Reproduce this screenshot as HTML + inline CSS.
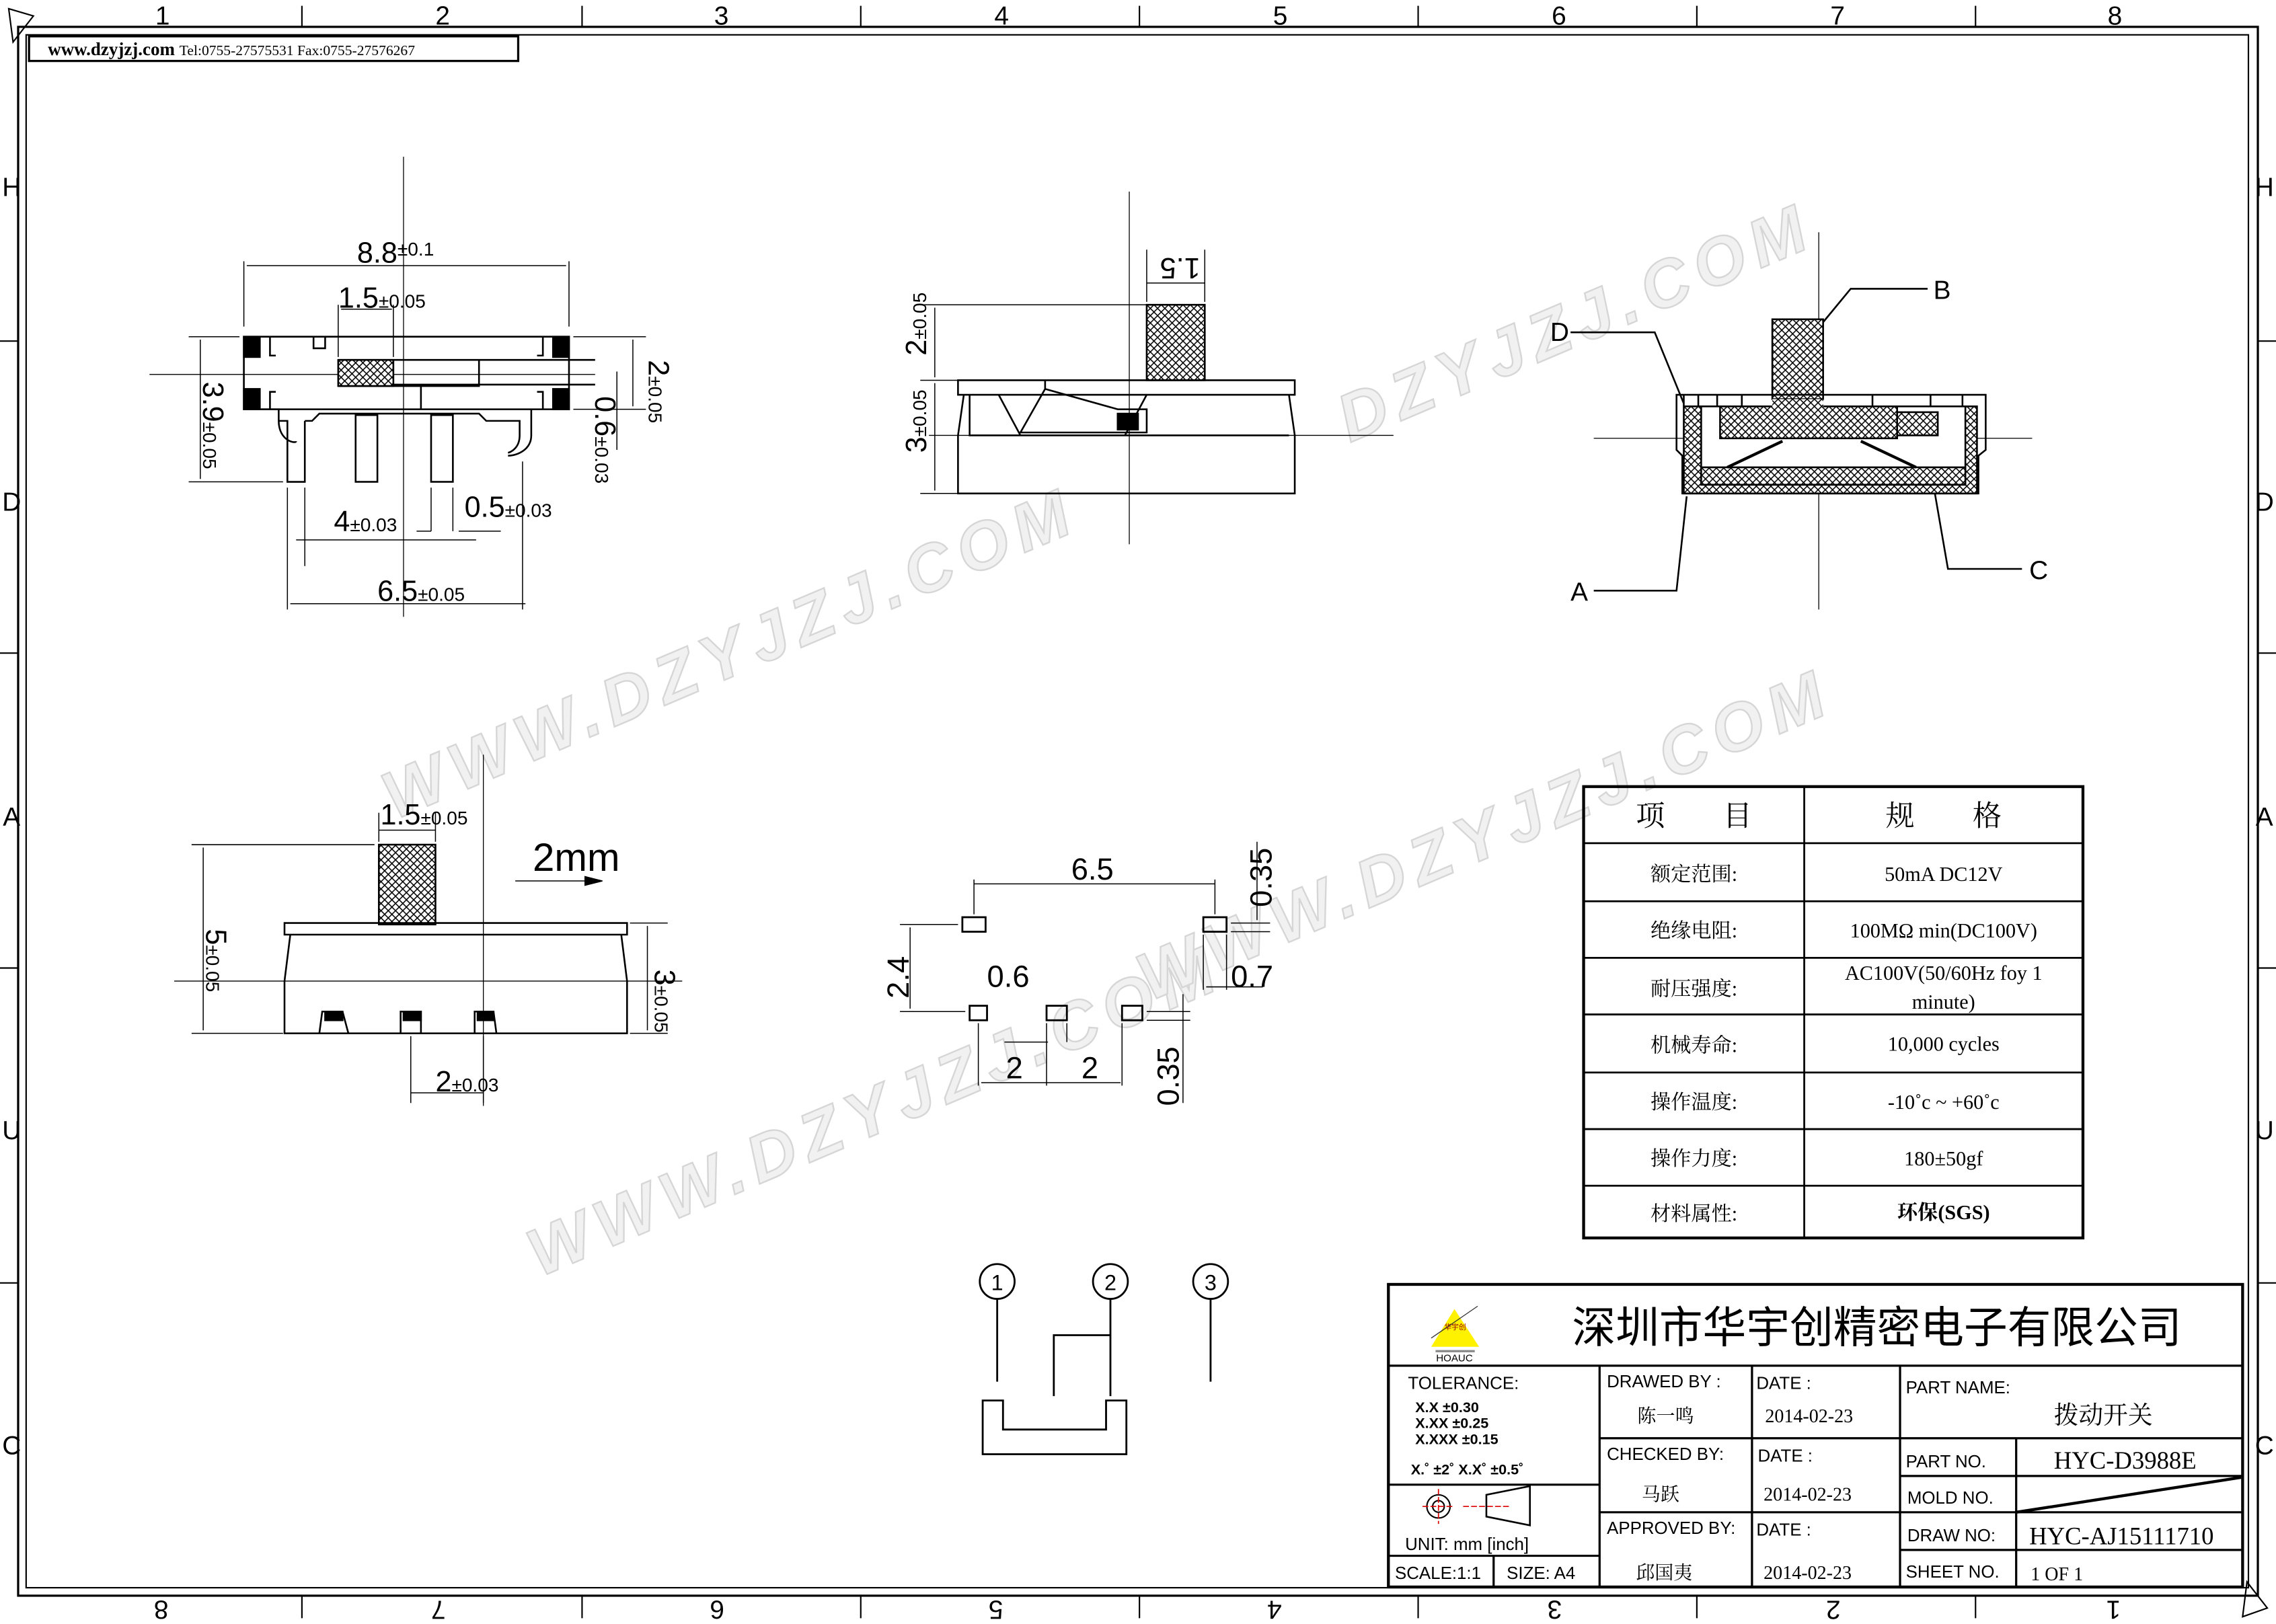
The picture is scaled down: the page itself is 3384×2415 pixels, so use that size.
<!DOCTYPE html>
<html><head><meta charset="utf-8"><style>
html,body{margin:0;padding:0;background:#fff}
svg{display:block}
text{font-family:"Liberation Sans","Noto Sans CJK SC",sans-serif}
.s text, text.s{font-family:"Liberation Serif","Noto Serif CJK SC","Noto Sans CJK SC",serif}
</style></head><body>
<svg width="3384" height="2415" viewBox="0 0 1568 1119" xmlns="http://www.w3.org/2000/svg">
<defs>
<pattern id="h" width="5" height="5" patternUnits="userSpaceOnUse">
<rect width="5" height="5" fill="#fff"/>
<path d="M0 5L5 0M0 0L5 5" stroke="#000" stroke-width="0.7"/>
</pattern>
</defs>
<rect width="1568" height="1119" fill="#fff"/>

<!-- watermarks -->
<g fill="#f1f1f1" stroke="#d6d6d6" stroke-width="1.1" font-size="46" font-style="italic" font-weight="bold" letter-spacing="6">
<text transform="translate(272,565) rotate(-23)" font-family="Liberation Sans,sans-serif">WWW.DZYJZJ.COM</text>
<text transform="translate(372,880) rotate(-23)" font-family="Liberation Sans,sans-serif">WWW.DZYJZJ.COM</text>
<text transform="translate(792,690) rotate(-23)" font-family="Liberation Sans,sans-serif">WWW.DZYJZJ.COM</text>
<text transform="translate(930,305) rotate(-23)" font-family="Liberation Sans,sans-serif">DZYJZJ.COM</text>
</g>

<!-- frame -->
<g fill="none" stroke="#000">
<rect x="12.5" y="18.5" width="1543" height="1081" stroke-width="1.5"/>
<rect x="18" y="24" width="1531" height="1070" stroke-width="1"/>
<rect x="20" y="25" width="337" height="17" stroke-width="1.5"/>
<path d="M208 4V18M401 4V18M593 4V18M785 4V18M977 4V18M1169 4V18M1361 4V18M208 1100V1115M401 1100V1115M593 1100V1115M785 1100V1115M977 1100V1115M1169 1100V1115M1361 1100V1115M0 235H12M0 450H12M0 667H12M0 884H12M1556 235H1568M1556 450H1568M1556 667H1568M1556 884H1568" stroke-width="1"/>
<path d="M6 6L23 11L9 29Z M1545 1114L1562 1108L1548 1090Z" stroke-width="1"/>
</g>
<g font-size="18" text-anchor="middle">
<text x="112" y="17">1</text><text x="305" y="17">2</text><text x="497" y="17">3</text><text x="690" y="17">4</text><text x="882" y="17">5</text><text x="1074" y="17">6</text><text x="1266" y="17">7</text><text x="1457" y="17">8</text>
<g transform="rotate(180 784 1109)">
<text x="112" y="1115">1</text><text x="305" y="1115">2</text><text x="497" y="1115">3</text><text x="690" y="1115">4</text><text x="882" y="1115">5</text><text x="1074" y="1115">6</text><text x="1266" y="1115">7</text><text x="1457" y="1115">8</text>
</g>
<text x="8" y="135">H</text><text x="8" y="352">D</text><text x="8" y="569">A</text><text x="8" y="785">U</text><text x="8" y="1002">C</text>
<text x="1560" y="135">H</text><text x="1560" y="352">D</text><text x="1560" y="569">A</text><text x="1560" y="785">U</text><text x="1560" y="1002">C</text>
</g>
<text x="33" y="38" class="s" font-size="12.5" font-weight="bold">www.dzyjzj.com <tspan font-size="10" font-weight="normal">Tel:0755-27575531  Fax:0755-27576267</tspan></text>

<!-- VIEW 1 -->
<g fill="none" stroke="#000" stroke-width="1.2">
<path d="M103 258H410" stroke-width="0.6"/>
<path d="M278 108V425" stroke-width="0.6"/>
<path d="M168 232H392V282H168Z"/>
<rect x="168" y="232" width="11" height="14" fill="#000"/>
<rect x="168" y="268" width="11" height="14" fill="#000"/>
<rect x="381" y="232" width="11" height="14" fill="#000"/>
<rect x="381" y="268" width="11" height="14" fill="#000"/>
<path d="M186 232V245h4M186 282V270h4M374 232V245h-4M374 282V270h-4M216 232v8h8v-8"/>
<rect x="233" y="248" width="38" height="18" fill="url(#h)"/>
<path d="M233 248H330V266H233M271 248H410M271 265H410M290 266V282"/>
<path d="M180 282H192V290H198V332H210V290M192 290c0 14 12 16 12 14M210 290H215L220 285H330L335 290H358V300c0 10 -8 12 -8 12M358 290v10M366 282V300c0 10 -10 14 -16 14"/>
<rect x="245" y="286" width="15" height="46"/>
<rect x="297" y="286" width="15" height="46"/>
</g>
<g stroke="#000" stroke-width="0.7" fill="none">
<path d="M168 225V180M392 225V180M170 183H390M233 246V210M271 246V210M235 213H270M130 232H165M130 332H195M138 234V330M395 232H445M395 282H445M436 234V280M425 256V310M198 336V420M210 336V390M360 318V420M204 372H328M297 336V366M312 336V366M287 366H297M316 366H345M200 416H362"/>
</g>
<g font-size="20">
<text x="246" y="181">8.8<tspan font-size="13" dy="-5">±0.1</tspan></text>
<text x="233" y="212">1.5<tspan font-size="13">±0.05</tspan></text>
<text x="230" y="366">4<tspan font-size="13">±0.03</tspan></text>
<text x="320" y="356">0.5<tspan font-size="13">±0.03</tspan></text>
<text x="260" y="414">6.5<tspan font-size="13">±0.05</tspan></text>
<text transform="translate(140,263) rotate(90)">3.9<tspan font-size="13">±0.05</tspan></text>
<text transform="translate(447,248) rotate(90)">2<tspan font-size="13">±0.05</tspan></text>
<text transform="translate(410,273) rotate(90)">0.6<tspan font-size="13">±0.03</tspan></text>
</g>

<!-- VIEW 2 -->
<g fill="none" stroke="#000" stroke-width="1.2">
<path d="M778 132V375M640 300H960" stroke-width="0.6"/>
<rect x="790" y="210" width="40" height="52" fill="url(#h)"/>
<path d="M660 262H892V272H660ZM664 272L660 300V340H892V300L888 272M668 272V300H888M688 272L703 300H775L790 272"/>
<path d="M720 262V268L703 298H790V282H770L720 268"/>
<rect x="770" y="285" width="14" height="11" fill="#000"/>
</g>
<g stroke="#000" stroke-width="0.7" fill="none">
<path d="M790 208V172M830 208V172M790 195H830M634 210H790M634 262H660M634 340H660M644 212V260M644 264V338"/>
</g>
<g font-size="20">
<text transform="translate(813,178) rotate(180)" text-anchor="middle">1.5</text>
<text transform="translate(638,245) rotate(-90)">2<tspan font-size="13">±0.05</tspan></text>
<text transform="translate(638,312) rotate(-90)">3<tspan font-size="13">±0.05</tspan></text>
</g>

<!-- VIEW 3 -->
<g fill="none" stroke="#000" stroke-width="1.2">
<path d="M1253 160V420M1098 302H1400" stroke-width="0.6"/>
<path d="M1221 220H1256V275H1221Z" fill="url(#h)"/>
<path d="M1155 272H1368V310L1363 314V340H1159V314L1155 310Z"/>
<path d="M1160 280H1362L1362 340H1160Z" fill="url(#h)"/>
<path d="M1172 280H1354V334H1172Z" fill="#fff"/>
<path d="M1185 280H1307V302H1185Z" fill="url(#h)"/>
<path d="M1307 284H1335V300H1307Z" fill="url(#h)"/>
<path d="M1172 322H1354V334H1172Z" fill="url(#h)"/>
<path d="M1221 275H1256V282H1221Z" fill="url(#h)" stroke="none"/>
<path d="M1190 322L1228 304M1282 304L1320 322" stroke-width="2"/>
<path d="M1160 272V280M1170 272V280M1183 272V280M1200 272V280M1290 272V280M1330 272V280M1352 272V280"/>
</g>
<g fill="none" stroke="#000" stroke-width="1.2">
<path d="M1082 229H1140L1160 278M1256 222L1275 199H1328M1098 407H1155L1162 342M1393 392H1342L1333 340"/>
</g>
<g font-size="18"><text x="1068" y="235">D</text><text x="1332" y="206">B</text><text x="1082" y="414">A</text><text x="1398" y="399">C</text></g>

<!-- VIEW 4 -->
<g fill="none" stroke="#000" stroke-width="1.2">
<path d="M120 676H470M333 520V762" stroke-width="0.6"/>
<rect x="261" y="582" width="39" height="55" fill="url(#h)"/>
<path d="M196 636H432V644H196ZM200 644L196 676V712H432V676L428 644M204 644H428"/>
<path d="M220 712L222 697H236L240 712M276 712L276 697H290L290 712M327 712L327 697H340L342 712"/>
<path d="M224 697h12v6h-12zM278 697h12v6h-12zM329 697h11v6h-11z" fill="#000"/>
</g>
<g stroke="#000" stroke-width="0.7" fill="none">
<path d="M261 580V560M300 580V560M261 572H300M132 582H258M132 712H195M140 584V710M434 636H460M434 712H460M446 638V710M283 714V760M333 714V760M283 753H333M355 607H405"/>
<path d="M403 604L415 607L403 610Z" fill="#000"/>
</g>
<g font-size="20">
<text x="262" y="568">1.5<tspan font-size="13">±0.05</tspan></text>
<text x="367" y="600" font-size="27">2mm</text>
<text x="300" y="752">2<tspan font-size="13">±0.03</tspan></text>
<text transform="translate(142,640) rotate(90)">5<tspan font-size="13">±0.05</tspan></text>
<text transform="translate(451,668) rotate(90)">3<tspan font-size="13">±0.05</tspan></text>
</g>

<!-- VIEW 5 footprint -->
<g fill="none" stroke="#000" stroke-width="1.3">
<rect x="663" y="632" width="16" height="10"/>
<rect x="829" y="632" width="16" height="10"/>
<rect x="668" y="693" width="12" height="10"/>
<rect x="721" y="693" width="14" height="10"/>
<rect x="773" y="693" width="14" height="10"/>
</g>
<g stroke="#000" stroke-width="0.7" fill="none">
<path d="M671 630V606M837 630V606M671 609H837M620 637H660M620 697H665M627 639V695M692 718H722M721 705V718M735 705V718M674 705V748M721 705V748M773 705V748M676 746H772M790 697H820M790 703H820M815 685V760M829 644V682M845 644V682M831 680H870M848 636H875M848 642H875M866 580V634"/>
</g>
<g font-size="21">
<text x="738" y="606">6.5</text>
<text x="680" y="680">0.6</text>
<text x="848" y="680">0.7</text>
<text x="693" y="743">2</text><text x="745" y="743">2</text>
<text transform="translate(626,688) rotate(-90)">2.4</text>
<text transform="translate(812,762) rotate(-90)">0.35</text>
<text transform="translate(876,625) rotate(-90)">0.35</text>
</g>

<!-- schematic -->
<g fill="none" stroke="#000" stroke-width="1.3">
<circle cx="687" cy="883" r="12"/><circle cx="765" cy="883" r="12"/><circle cx="834" cy="883" r="12"/>
<path d="M687 895V952M765 895V962M834 895V952M765 920H726V962M677 965V1002H776V965H762V985H691V965Z"/>
</g>
<g font-size="15" text-anchor="middle"><text x="687" y="889">1</text><text x="765" y="889">2</text><text x="834" y="889">3</text></g>

<!-- spec table -->
<g fill="none" stroke="#000">
<rect x="1091" y="542" width="344" height="311" stroke-width="2"/>
<path d="M1243 542V853M1091 581H1435M1091 621H1435M1091 660H1435M1091 699H1435M1091 739H1435M1091 778H1435M1091 817H1435" stroke-width="1.3"/>
</g>
<g font-size="14" class="s" text-anchor="middle">
<text x="1167" y="569" font-size="20">项　　目</text><text x="1339" y="569" font-size="20">规　　格</text>
<text x="1167" y="607">额定范围:</text><text x="1339" y="607">50mA DC12V</text>
<text x="1167" y="646">绝缘电阻:</text><text x="1339" y="646">100MΩ min(DC100V)</text>
<text x="1167" y="686">耐压强度:</text><text x="1339" y="675">AC100V(50/60Hz foy 1</text><text x="1339" y="695">minute)</text>
<text x="1167" y="725">机械寿命:</text><text x="1339" y="724">10,000 cycles</text>
<text x="1167" y="764">操作温度:</text><text x="1339" y="764">-10˚c ~ +60˚c</text>
<text x="1167" y="803">操作力度:</text><text x="1339" y="803">180±50gf</text>
<text x="1167" y="841">材料属性:</text><text x="1339" y="840" font-weight="bold">环保(SGS)</text>
</g>

<!-- title block -->
<g fill="none" stroke="#000">
<rect x="956.5" y="885" width="588.5" height="208.5" stroke-width="2"/>
<path d="M957 941H1545M1102 941V1093M1207 941V1093M1309 941V1093M1389 991V1093M1102 991H1545M1309 1017H1545M1102 1042H1545M1309 1068H1545M957 1023H1102M957 1072H1102M1029 1072V1093" stroke-width="1.5"/>
<path d="M1389 1042L1544 1018" stroke-width="2"/>
<circle cx="991" cy="1038" r="8" stroke-width="1"/><circle cx="991" cy="1038" r="4" stroke-width="1"/>
<path d="M980 1038H1002M991 1026V1050M1008 1038H1040" stroke="#d00" stroke-width="0.8" stroke-dasharray="4 1.5"/>
<path d="M1024 1030L1054 1024V1051L1024 1045Z" stroke-width="1.2"/>
</g>
<path d="M1002 902L986 928H1019Z" fill="#fff200"/>
<path d="M989 931H1016" stroke="#888" stroke-width="1.5"/>
<path d="M1018 900L986 922" stroke="#333" stroke-width="0.6" fill="none"/>
<text x="995" y="916" font-size="5" fill="#900">华宇创</text>
<text x="1002" y="938" font-size="7" text-anchor="middle">HOAUC</text>
<text x="1293" y="925" font-size="30" text-anchor="middle">深圳市华宇创精密电子有限公司</text>
<g font-size="12">
<text x="970" y="957">TOLERANCE:</text>
<text x="975" y="973" font-size="10" font-weight="bold">X.X    ±0.30</text>
<text x="975" y="984" font-size="10" font-weight="bold">X.XX   ±0.25</text>
<text x="975" y="995" font-size="10" font-weight="bold">X.XXX ±0.15</text>
<text x="972" y="1016" font-size="10" font-weight="bold">X.˚ ±2˚      X.X˚ ±0.5˚</text>
<text x="968" y="1068">UNIT:  mm  [inch]</text>
<text x="961" y="1088">SCALE:1:1</text><text x="1038" y="1088">SIZE:  A4</text>
<text x="1107" y="956">DRAWED  BY  :</text><text x="1210" y="957">DATE  :</text>
<text x="1107" y="1006">CHECKED  BY:</text><text x="1211" y="1007">DATE  :</text>
<text x="1107" y="1057">APPROVED  BY:</text><text x="1210" y="1058">DATE  :</text>
<text x="1313" y="960">PART  NAME:</text>
<text x="1313" y="1011">PART  NO.</text><text x="1314" y="1036">MOLD  NO.</text>
<text x="1314" y="1062">DRAW  NO:</text><text x="1313" y="1087">SHEET  NO.</text>
</g>
<g class="s" font-size="13">
<text x="1128" y="980">陈一鸣</text><text x="1216" y="980">2014-02-23</text>
<text x="1131" y="1034">马跃</text><text x="1215" y="1034">2014-02-23</text>
<text x="1127" y="1088">邱国夷</text><text x="1215" y="1088">2014-02-23</text>
<text x="1415" y="981" font-size="17">拨动开关</text>
<text x="1415" y="1012" font-size="17">HYC-D3988E</text>
<text x="1398" y="1064" font-size="17">HYC-AJ15111710</text>
<text x="1399" y="1089">1 OF 1</text>
</g>
</svg>
</body></html>
